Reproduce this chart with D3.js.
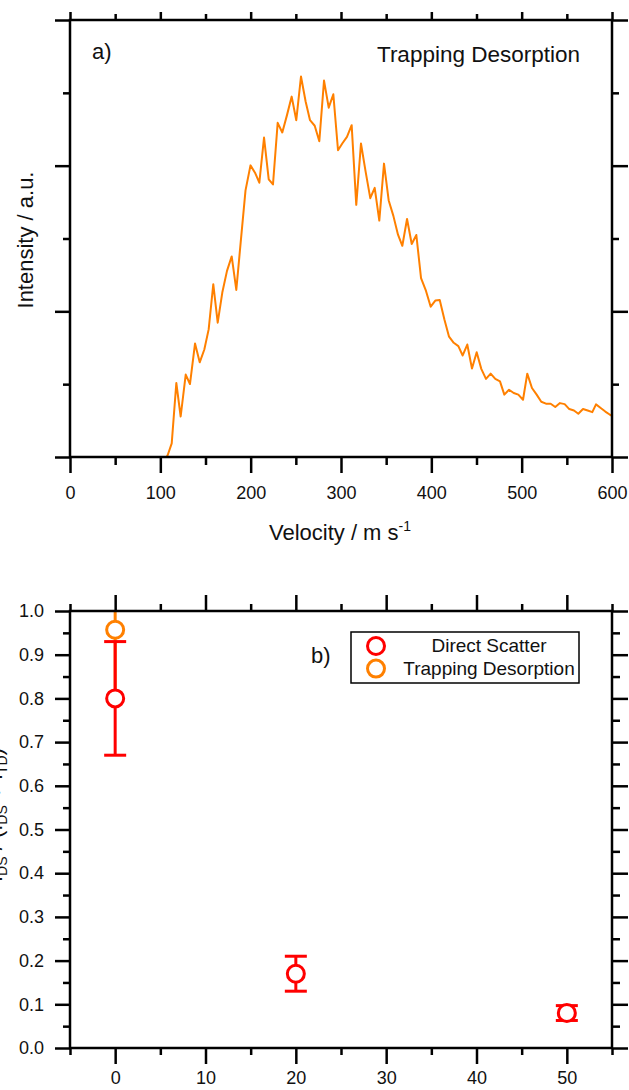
<!DOCTYPE html>
<html>
<head>
<meta charset="utf-8">
<script src="https://cdn.jsdelivr.net/npm/d3@7"></script>
<style>
body { margin: 0; background: #fff; }
text { font-family: "Liberation Sans", Arial, sans-serif; fill: #111; }
</style>
</head>
<body>
<script>
// a) trapping desorption velocity distribution
var velocity = [107, 108.2, 112.6, 117.7, 122.5, 128.1, 132.8, 138.4, 143.6, 148.7, 153.5, 158.6, 163.5, 168.6,
    173.8, 179.0, 184.1, 189.3, 194.3, 199.8, 204.8, 209.6, 214.8, 220.0, 224.7, 229.9, 235.0, 240.2,
    245.4, 250.5, 255.7, 260.9, 265.7, 270.9, 276.0, 281.2, 286.4, 291.5, 296.7, 301.4, 306.6, 311.8,
    316.9, 322.1, 327.3, 332.4, 337.3, 342.4, 347.6, 352.8, 357.9, 363.1, 367.9, 373.1, 378.3, 383.4,
    388.6, 394.1, 399.3, 404.4, 409.3, 414.4, 419.6, 424.8, 429.9, 434.7, 439.8, 445.0, 450.2, 455.3,
    460.5, 465.7, 470.8, 476.0, 480.8, 486.0, 491.2, 496.3, 501.5, 506.2, 511.4, 516.6, 521.7, 526.9,
    532.1, 537.2, 542.4, 547.6, 552.7, 557.9, 562.7, 567.9, 573.1, 578.2, 582.3, 587.5, 592.6, 597.8, 600];
var intensity = [0, 0.014, 0.094, 0.508, 0.278, 0.566, 0.501, 0.779, 0.650, 0.738, 0.876, 1.186, 0.922, 1.129,
    1.278, 1.377, 1.147, 1.497, 1.830, 2.002, 1.952, 1.883, 2.193, 1.906, 1.871, 2.294, 2.228, 2.347,
    2.474, 2.312, 2.612, 2.439, 2.312, 2.274, 2.168, 2.584, 2.398, 2.490, 2.106, 2.152, 2.198, 2.278,
    1.731, 2.152, 1.957, 1.777, 1.848, 1.623, 2.014, 1.761, 1.657, 1.526, 1.450, 1.634, 1.462, 1.524,
    1.228, 1.140, 1.032, 1.074, 1.078, 0.945, 0.826, 0.784, 0.761, 0.697, 0.772, 0.607, 0.719, 0.605,
    0.536, 0.572, 0.536, 0.519, 0.428, 0.462, 0.439, 0.428, 0.393, 0.572, 0.474, 0.428, 0.379, 0.366,
    0.366, 0.343, 0.370, 0.363, 0.329, 0.319, 0.297, 0.329, 0.319, 0.308, 0.361, 0.336, 0.312, 0.290, 0.283];
var velocityTicks = [0, 100, 200, 300, 400, 500, 600];
var velocityMinor = [50, 150, 250, 350, 450, 550];
var intensityTicks = [0, 1, 2, 3];
var intensityMinor = [0.5, 1.5, 2.5];

// b) fractions with error bars
var xValues = [0, 20, 50];
var directScatter = [0.80, 0.17, 0.08];
var directScatterErr = [0.13, 0.04, 0.017];
var trappingX = [0];
var trapping = [0.957];
var trappingErr = [0.14];
var xTicksB = [0, 10, 20, 30, 40, 50];
var xMinorB = [-5, 5, 15, 25, 35, 45, 55];
var yTicksB = [0, 0.1, 0.2, 0.3, 0.4, 0.5, 0.6, 0.7, 0.8, 0.9, 1.0];
var yMinorB = [0.05, 0.15, 0.25, 0.35, 0.45, 0.55, 0.65, 0.75, 0.85, 0.95];
var legendLabels = ["Direct Scatter", "Trapping Desorption"];

var orange = "#FF8000", red = "#FF0000";

var svg = d3.select("body").append("svg")
    .attr("width", 629)
    .attr("height", 1090);

// draw a tick set with the library axis, no domain line
function ticks(g, axis) {
    g.call(axis);
    g.select(".domain").remove();
    g.selectAll(".tick line").attr("stroke", "#000").attr("stroke-width", 2.5);
    g.selectAll(".tick text").attr("font-size", 18).attr("fill", "#111")
        .style("font-family", "'Liberation Sans', Arial, sans-serif");
}

function frame(left, right, top, bottom) {
    svg.append("rect")
        .attr("x", left).attr("y", top)
        .attr("width", right - left).attr("height", bottom - top)
        .attr("fill", "none").attr("stroke", "#000").attr("stroke-width", 2.5);
}

// ---------- panel a ----------
var xA = d3.scaleLinear().domain([0, 600]).range([70, 612]);
var yA = d3.scaleLinear().domain([0, 3]).range([457, 20]);

svg.append("clipPath").attr("id", "clipA").append("rect")
    .attr("x", 70).attr("y", 20).attr("width", 542).attr("height", 437);

var lineA = d3.line()
    .x(function(d, i) { return xA(velocity[i]); })
    .y(function(d) { return yA(d); });

svg.append("path")
    .datum(intensity)
    .attr("clip-path", "url(#clipA)")
    .attr("fill", "none")
    .attr("stroke", orange)
    .attr("stroke-width", 2)
    .attr("stroke-linejoin", "round")
    .attr("d", lineA);

ticks(svg.append("g").attr("transform", "translate(0,457)"),
    d3.axisBottom(xA).tickValues(velocityTicks).tickSize(16).tickPadding(13));
ticks(svg.append("g").attr("transform", "translate(0,457)"),
    d3.axisBottom(xA).tickValues(velocityMinor).tickSize(8).tickFormat(""));
ticks(svg.append("g").attr("transform", "translate(0,20)"),
    d3.axisTop(xA).tickValues(velocityTicks).tickSize(8).tickFormat(""));
ticks(svg.append("g").attr("transform", "translate(0,20)"),
    d3.axisTop(xA).tickValues(velocityMinor).tickSize(6).tickFormat(""));
ticks(svg.append("g").attr("transform", "translate(70,0)"),
    d3.axisLeft(yA).tickValues(intensityTicks).tickSize(15).tickFormat(""));
ticks(svg.append("g").attr("transform", "translate(70,0)"),
    d3.axisLeft(yA).tickValues(intensityMinor).tickSize(7).tickFormat(""));
ticks(svg.append("g").attr("transform", "translate(612,0)"),
    d3.axisRight(yA).tickValues(intensityTicks).tickSize(16).tickFormat(""));
ticks(svg.append("g").attr("transform", "translate(612,0)"),
    d3.axisRight(yA).tickValues(intensityMinor).tickSize(7).tickFormat(""));
frame(70, 612, 20, 457);

svg.append("text").attr("x", 92).attr("y", 59).attr("font-size", 22).text("a)");
svg.append("text").attr("x", 580).attr("y", 62).attr("font-size", 22.5)
    .attr("text-anchor", "end").text("Trapping Desorption");

var vLabel = svg.append("text").attr("x", 340).attr("y", 540)
    .attr("font-size", 22).attr("text-anchor", "middle");
vLabel.append("tspan").text("Velocity / m s");
vLabel.append("tspan").attr("font-size", 14).attr("dy", -9).text("-1");

svg.append("text")
    .attr("transform", "translate(33,240) rotate(-90)")
    .attr("font-size", 22).attr("text-anchor", "middle")
    .text("Intensity / a.u.");

// ---------- panel b ----------
var xB = d3.scaleLinear().domain([-5, 55]).range([70, 612]);
var yB = d3.scaleLinear().domain([0, 1]).range([1048, 611]);

ticks(svg.append("g").attr("transform", "translate(0,1048)"),
    d3.axisBottom(xB).tickValues(xTicksB).tickSize(16).tickPadding(7));
ticks(svg.append("g").attr("transform", "translate(0,1048)"),
    d3.axisBottom(xB).tickValues(xMinorB).tickSize(7).tickFormat(""));
ticks(svg.append("g").attr("transform", "translate(0,611)"),
    d3.axisTop(xB).tickValues(xTicksB).tickSize(16).tickFormat(""));
ticks(svg.append("g").attr("transform", "translate(0,611)"),
    d3.axisTop(xB).tickValues(xMinorB).tickSize(7).tickFormat(""));
ticks(svg.append("g").attr("transform", "translate(70,0)"),
    d3.axisLeft(yB).tickValues(yTicksB).tickSize(15).tickPadding(11).tickFormat(d3.format(".1f")));
ticks(svg.append("g").attr("transform", "translate(70,0)"),
    d3.axisLeft(yB).tickValues(yMinorB).tickSize(7).tickFormat(""));
ticks(svg.append("g").attr("transform", "translate(612,0)"),
    d3.axisRight(yB).tickValues(yTicksB).tickSize(16).tickFormat(""));
ticks(svg.append("g").attr("transform", "translate(612,0)"),
    d3.axisRight(yB).tickValues(yMinorB).tickSize(8).tickFormat(""));

svg.append("clipPath").attr("id", "clipB").append("rect")
    .attr("x", 70).attr("y", 611).attr("width", 542).attr("height", 437);

function errorPoints(xs, ys, errs, color, capHalf) {
    var g = svg.append("g").attr("clip-path", "url(#clipB)");
    var pts = g.selectAll("g").data(ys).enter().append("g");
    pts.append("line")
        .attr("x1", function(d, i) { return xB(xs[i]); })
        .attr("x2", function(d, i) { return xB(xs[i]); })
        .attr("y1", function(d, i) { return yB(d - errs[i]); })
        .attr("y2", function(d, i) { return yB(d + errs[i]); })
        .attr("stroke", color).attr("stroke-width", 3);
    if (capHalf > 0) {
        [-1, 1].forEach(function(s) {
            pts.append("line")
                .attr("x1", function(d, i) { return xB(xs[i]) - capHalf; })
                .attr("x2", function(d, i) { return xB(xs[i]) + capHalf; })
                .attr("y1", function(d, i) { return yB(d + s * errs[i]); })
                .attr("y2", function(d, i) { return yB(d + s * errs[i]); })
                .attr("stroke", color).attr("stroke-width", 3);
        });
    }
    pts.append("circle")
        .attr("cx", function(d, i) { return xB(xs[i]); })
        .attr("cy", function(d) { return yB(d); })
        .attr("r", 8.5)
        .attr("fill", "#fff").attr("stroke", color).attr("stroke-width", 3);
}
errorPoints(trappingX, trapping, trappingErr, orange, 0);
errorPoints(xValues, directScatter, directScatterErr, red, 11);

frame(70, 612, 611, 1048);

svg.append("text").attr("x", 311).attr("y", 663).attr("font-size", 22).text("b)");

// legend
svg.append("rect").attr("x", 351).attr("y", 632).attr("width", 228).attr("height", 51)
    .attr("fill", "#fff").attr("stroke", "#000").attr("stroke-width", 1.5);
var legend = svg.selectAll(".leg").data(legendLabels).enter().append("g").attr("class", "leg");
legend.append("circle")
    .attr("cx", 376).attr("cy", function(d, i) { return 646 + i * 22.6; })
    .attr("r", 8.5).attr("fill", "#fff").attr("stroke-width", 3)
    .attr("stroke", function(d, i) { return i == 0 ? red : orange; });
legend.append("text")
    .attr("x", 489).attr("y", function(d, i) { return 652 + i * 23; })
    .attr("font-size", 19).attr("text-anchor", "middle")
    .text(function(d) { return d; });

// y title of panel b, mostly off the left edge as in the source figure
var yTitle = svg.append("text")
    .attr("transform", "translate(2,815) rotate(-90)")
    .attr("font-size", 22).attr("text-anchor", "middle");
yTitle.append("tspan").text("I");
yTitle.append("tspan").attr("font-size", 14).attr("dy", 5).text("DS");
yTitle.append("tspan").attr("dy", -5).text(" / (I");
yTitle.append("tspan").attr("font-size", 14).attr("dy", 5).text("DS");
yTitle.append("tspan").attr("dy", -5).text(" + I");
yTitle.append("tspan").attr("font-size", 14).attr("dy", 5).text("TD");
yTitle.append("tspan").attr("dy", -5).text(")");
</script>
</body>
</html>
